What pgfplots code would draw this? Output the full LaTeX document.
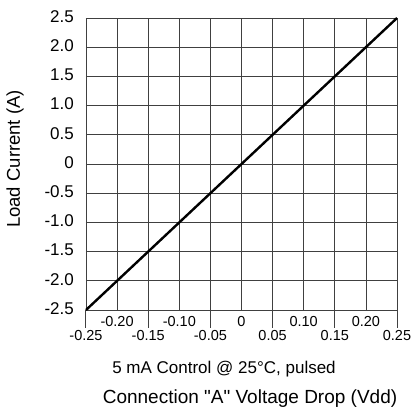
\documentclass[border=0pt]{standalone}
\usepackage{fontspec}
\setmainfont{Liberation Sans}[Ligatures=TeXOff]
\usepackage{pgfplots}
\pgfplotsset{compat=1.18}
\begin{document}
\begin{tikzpicture}
\begin{axis}[
  scale only axis, width=311pt, height=292pt,
  xmin=-0.25, xmax=0.25, ymin=-2.5, ymax=2.5,
  clip=false,
  axis line style={black!75, line width=0.8pt},
  grid=major,
  major grid style={black!75, line width=0.8pt},
  major tick length=0pt,
  xtick={-0.2,-0.1,0,0.1,0.2},
  xticklabels={-0.20,-0.10,0,0.10,0.20},
  xticklabel style={font=\fontsize{14.5}{14.5}\selectfont, anchor=base, inner sep=0pt, yshift=-16pt},
  extra x ticks={-0.25,-0.15,-0.05,0.05,0.15,0.25},
  extra x tick labels={-0.25,-0.15,-0.05,0.05,0.15,0.25},
  extra x tick style={grid=major, xticklabel style={yshift=-14pt}},
  ytick={-2.5,-2,-1.5,-1,-0.5,0,0.5,1,1.5,2,2.5},
  yticklabels={-2.5,-2.0,-1.5,-1.0,-0.5,0,0.5,1.0,1.5,2.0,2.5},
  yticklabel style={font=\fontsize{17}{17}\selectfont, anchor=east, inner sep=0pt, xshift=-12pt, yshift=1.5pt},
]
\addplot[black, line width=2.4pt] coordinates {(-0.25,-2.5) (0.25,2.5)};
\foreach \t in {-0.25,-0.15,-0.05,0.05,0.15,0.25}{
  \edef\temp{\noexpand\draw[black!75, line width=1pt] (axis cs:\t,-2.5) -- ++(0pt,-18pt);}
  \temp
}
\end{axis}
\node[font=\fontsize{18.5}{18.5}\selectfont, rotate=90, anchor=center] at (-71pt,151pt) {Load Current (A)};
\node[font=\fontsize{17}{17}\selectfont, anchor=base] at (138pt,-63pt) {5 mA Control @ 25°C, pulsed};
\node[font=\fontsize{19}{19}\selectfont, anchor=base] at (164pt,-93pt) {Connection "A" Voltage Drop (Vdd)};
\pgfresetboundingbox
\path (-86pt,-97pt) rectangle (331pt,310pt);
\end{tikzpicture}
\end{document}
